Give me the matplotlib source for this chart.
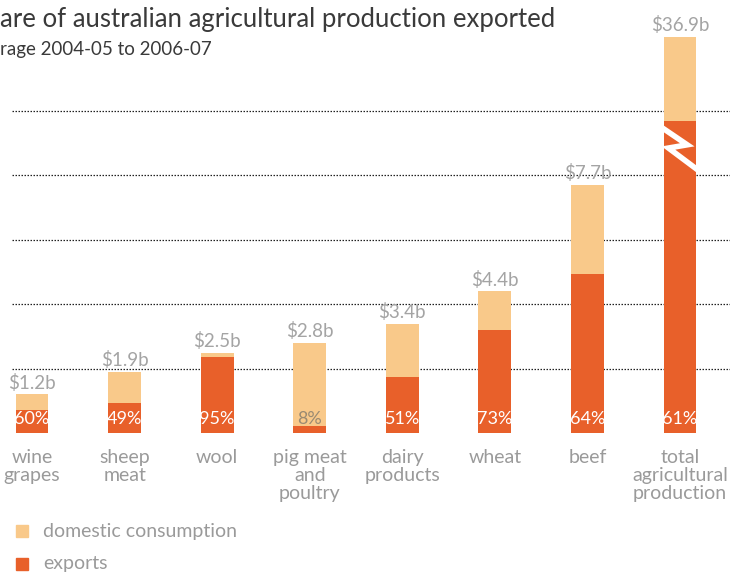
import matplotlib
matplotlib.use("Agg")
import matplotlib.pyplot as plt
from matplotlib.patches import Rectangle

plt.rcParams['font.family'] = ['Lato', 'DejaVu Sans']

# data: total production value ($b) and share exported (%)
categories = ["wine\ngrapes", "sheep\nmeat", "wool", "pig meat\nand\npoultry",
              "dairy\nproducts", "wheat", "beef", "total\nagricultural\nproduction"]
totals = [1.2, 1.9, 2.5, 2.8, 3.4, 4.4, 7.7, 36.9]
value_labels = ["$1.2b", "$1.9b", "$2.5b", "$2.8b", "$3.4b", "$4.4b", "$7.7b", "$36.9b"]
export_pct = [60, 49, 95, 8, 51, 73, 64, 61]
# the total bar is drawn on a broken scale (heights as shown in the chart)
total_shown = 12.3
total_export_shown = 9.7

light = '#F9C98A'
dark = '#E8602A'
grey = '#9a9a9a'

fig = plt.figure(figsize=(7.4, 5.74), dpi=100)
W, H = 740, 574
px_per_unit = 32.2
ax = fig.add_axes([12 / W, (H - 433) / H, 718 / W, 12.5 * px_per_unit / H])
ax.set_xlim((12 - 32) / 92.57, (730 - 32) / 92.57)
ax.set_ylim(0, 12.5)
ax.axis('off')

for g in [2, 4, 6, 8, 10]:
    ax.axhline(g, color='#222222', lw=0.9, ls=(0, (1.2, 1.2)), zorder=1)

bw = 0.356
n = len(categories)
for i in range(n):
    if i == n - 1:
        tot = total_shown
        exp = total_export_shown
    else:
        tot = totals[i]
        exp = totals[i] * export_pct[i] / 100
    ax.bar(i, exp, width=bw, color=dark, zorder=2, linewidth=0)
    ax.bar(i, tot - exp, bottom=exp, width=bw, color=light, zorder=2, linewidth=0)
    ax.text(i, tot + 0.08, value_labels[i], ha='center', va='bottom',
            fontsize=13.5, color='#a4a4a4')
    pct_color = 'white' if export_pct[i] > 20 else '#9a8a72'
    ax.text(i, 0.44, f"{export_pct[i]}%", ha='center', va='center',
            fontsize=13, color=pct_color)
    ax.text(i, -0.5, categories[i], ha='center', va='top', fontsize=14,
            color=grey, linespacing=1.08)

# break mark on the total bar
i = n - 1
ax.plot([i - bw / 2, i + bw * 0.22, i - bw * 0.35, i + bw / 2],
        [9.45, 8.95, 8.85, 8.2], color='white', lw=4, zorder=3,
        solid_joinstyle='miter', clip_on=False)

fig.text(0, 1 - 20 / H, "are of australian agricultural production exported",
         ha='left', va='center', fontsize=18.5, color='#3a3a3a')
fig.text(0, 1 - 50 / H, "rage 2004-05 to 2006-07",
         ha='left', va='center', fontsize=13.5, color='#3a3a3a')

# legend
for yy, col, lab in [(531, light, "domestic consumption"), (564, dark, "exports")]:
    fig.patches.append(Rectangle((16 / W, 1 - (yy + 6) / H), 12 / W, 12 / H,
                                 transform=fig.transFigure, color=col))
    fig.text(43 / W, 1 - yy / H, lab, ha='left', va='center', fontsize=14,
             color=grey)

fig.savefig("out.png", dpi=100)
